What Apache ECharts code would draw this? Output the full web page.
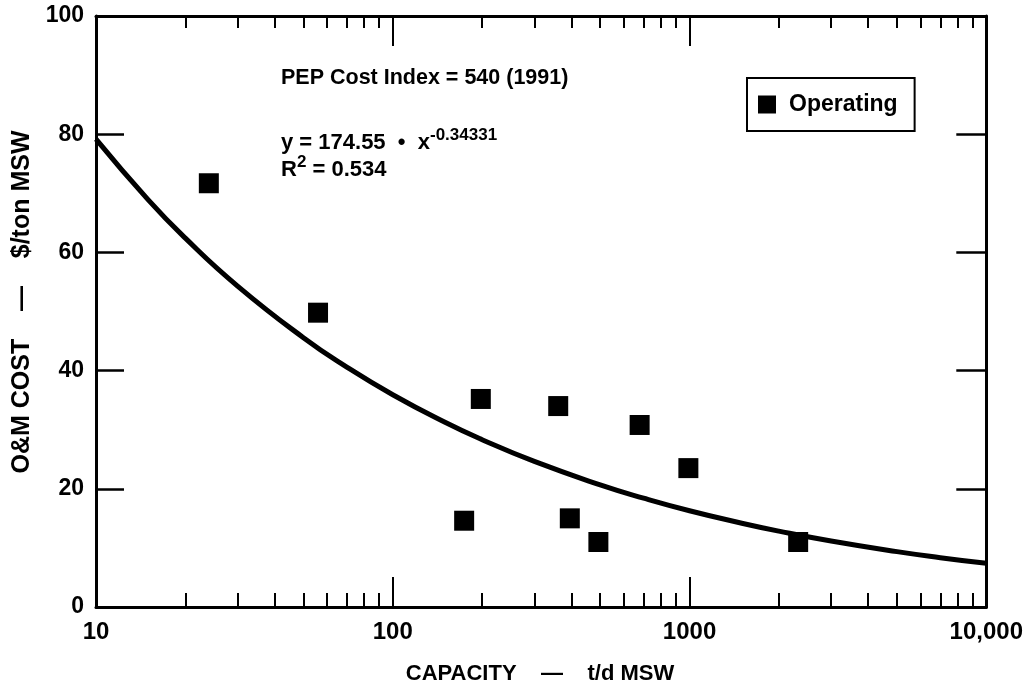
<!DOCTYPE html>
<html>
<head>
<meta charset="utf-8">
<script src="https://cdn.jsdelivr.net/npm/echarts@6/dist/echarts.min.js"></script>
<style>
  html, body { margin: 0; padding: 0; background: #fff; }
  #chart { width: 1026px; height: 689px; }
</style>
</head>
<body>
<div id="chart"></div>
<script>
// Operating plants: capacity (t/d MSW) and O&M cost ($/ton MSW)
const capacity = [24, 56, 174, 198, 361, 395, 493, 679, 991, 2323];
const omCost   = [71.7, 49.8, 14.6, 35.2, 34.0, 15.0, 11.0, 30.8, 23.5, 11.0];

// Power-law fit y = 174.55 * x^-0.34331, tabulated
const fitX = [10, 15, 20, 30, 50, 70, 100, 150, 200, 300, 500, 700, 1000, 1500, 2000, 3000, 5000, 7000, 10000];
const fitY = [79.18, 68.89, 62.41, 54.30, 45.57, 40.60, 35.92, 31.25, 28.31, 24.63, 20.67, 18.42, 16.29, 14.18, 12.84, 11.17, 9.37, 8.35, 7.39];

// Axis ticks and labels
const xLabelValues = [10, 100, 1000, 10000];
const xTickLabels = ['10', '100', '1000', '10,000'];
const xMajorTicks = [100, 1000];
const xMinorTicks = [20, 30, 40, 50, 60, 70, 80, 90, 200, 300, 400, 500, 600, 700, 800, 900,
                     2000, 3000, 4000, 5000, 6000, 7000, 8000, 9000];
const yTicks = [20, 40, 60, 80];

const FONT = 'Liberation Sans, Arial, Helvetica, sans-serif';

const chart = echarts.init(document.getElementById('chart'));

function xAxisBase(pos) {
  return {
    type: 'log', logBase: 10, min: 10, max: 10000, position: pos,
    splitLine: { show: false }, minorTick: { show: false },
    axisLine: { show: false }, axisLabel: { show: false }, axisTick: { show: false }
  };
}

const xAxes = [
  // bottom: line, labels and long ticks
  Object.assign(xAxisBase('bottom'), {
    axisLine: { show: true, lineStyle: { color: '#000', width: 3 } },
    axisTick: { show: true, inside: true, length: 30, customValues: xMajorTicks, lineStyle: { color: '#000', width: 2 } },
    axisLabel: {
      show: true, customValues: xLabelValues, margin: 13,
      color: '#000', fontFamily: FONT, fontWeight: 'bold', fontSize: 24,
      formatter: v => xTickLabels[xLabelValues.indexOf(Math.round(v))]
    }
  }),
  // bottom: short ticks
  Object.assign(xAxisBase('bottom'), {
    axisTick: { show: true, inside: true, length: 14, customValues: xMinorTicks, lineStyle: { color: '#000', width: 2 } }
  }),
  // top: line and long ticks
  Object.assign(xAxisBase('top'), {
    axisLine: { show: true, lineStyle: { color: '#000', width: 3 } },
    axisTick: { show: true, inside: true, length: 30, customValues: xMajorTicks, lineStyle: { color: '#000', width: 2 } }
  }),
  // top: short ticks
  Object.assign(xAxisBase('top'), {
    axisTick: { show: true, inside: true, length: 12, customValues: xMinorTicks, lineStyle: { color: '#000', width: 2 } }
  })
];

const yAxes = [
  {
    type: 'value', min: 0, max: 100, interval: 20, position: 'left',
    splitLine: { show: false },
    axisLine: { show: true, lineStyle: { color: '#000', width: 3 } },
    axisTick: { show: true, inside: true, length: 28, customValues: yTicks, lineStyle: { color: '#000', width: 2.5 } },
    axisLabel: { color: '#000', fontFamily: FONT, fontWeight: 'bold', fontSize: 23, margin: 12 }
  },
  {
    type: 'value', min: 0, max: 100, interval: 20, position: 'right',
    splitLine: { show: false },
    axisLine: { show: true, lineStyle: { color: '#000', width: 3 } },
    axisTick: { show: true, inside: true, length: 30, customValues: yTicks, lineStyle: { color: '#000', width: 2.5 } },
    axisLabel: { show: false }
  }
];

const eqRich = {
  b: { fontFamily: FONT, fontWeight: 'bold', fontSize: 22, lineHeight: 27, verticalAlign: 'bottom' },
  s: { fontFamily: FONT, fontWeight: 'bold', fontSize: 17, lineHeight: 16, verticalAlign: 'top' }
};

chart.setOption({
  backgroundColor: '#fff',
  animation: false,
  grid: { left: 96, right: 38, top: 16, bottom: 82, containLabel: false },
  xAxis: xAxes,
  yAxis: yAxes,
  legend: {
    data: ['Operating'],
    left: 747, top: 78,
    orient: 'horizontal',
    borderColor: '#000', borderWidth: 2, borderRadius: 0,
    padding: [15, 17, 15, 11],
    itemWidth: 18, itemHeight: 18,
    icon: 'rect',
    itemStyle: { color: '#000', opacity: 1 },
    textStyle: { color: '#000', fontFamily: FONT, fontWeight: 'bold', fontSize: 23, lineHeight: 23, padding: [0, 0, 0, 8] }
  },
  graphic: [
    {
      type: 'text', left: 281, top: 67,
      style: { text: 'PEP Cost Index = 540 (1991)', fill: '#000', font: 'bold 21.5px ' + FONT }
    },
    {
      type: 'text', left: 281, top: 127,
      style: { text: '{b|y = 174.55  •  x}{s|-0.34331}', fill: '#000', rich: eqRich }
    },
    {
      type: 'text', left: 281, top: 154,
      style: { text: '{b|R}{s|2}{b| = 0.534}', fill: '#000', rich: eqRich }
    },
    {
      type: 'text', x: 22, y: 302, rotation: Math.PI / 2,
      style: {
        text: 'O&M COST    —    $/ton MSW', fill: '#000', font: 'bold 25px ' + FONT,
        align: 'center', verticalAlign: 'middle'
      }
    },
    {
      type: 'text', x: 540, y: 674,
      style: {
        text: 'CAPACITY    —    t/d MSW', fill: '#000', font: 'bold 22px ' + FONT,
        align: 'center', verticalAlign: 'middle'
      }
    }
  ],
  series: [
    {
      name: 'fit', type: 'line', xAxisIndex: 0, yAxisIndex: 0,
      data: fitX.map((x, i) => [x, fitY[i]]),
      smooth: true, symbol: 'none', silent: true,
      lineStyle: { color: '#000', width: 5 }
    },
    {
      name: 'Operating', type: 'scatter', xAxisIndex: 0, yAxisIndex: 0,
      data: capacity.map((x, i) => [x, omCost[i]]),
      symbol: 'rect', symbolSize: 20,
      itemStyle: { color: '#000', opacity: 1 }
    }
  ]
});
</script>
</body>
</html>
